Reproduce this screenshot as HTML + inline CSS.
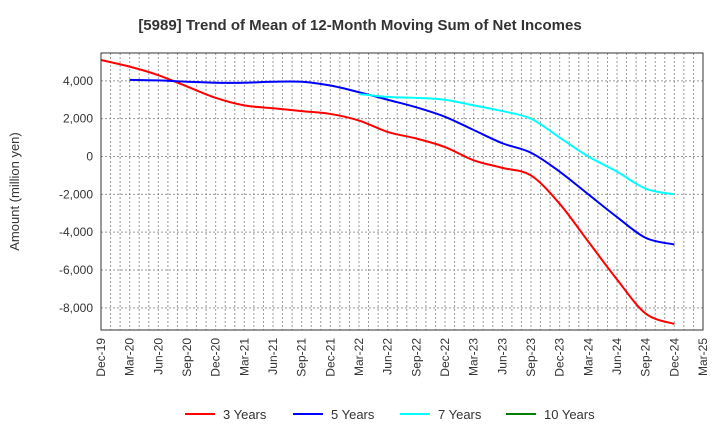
<!DOCTYPE html>
<html><head><meta charset="utf-8"><style>
body{margin:0;background:#fff;font-family:"Liberation Sans",sans-serif}
</style></head><body>
<svg id="c" width="720" height="440" xmlns="http://www.w3.org/2000/svg"></svg>
<script>
const quarters=["Dec-19","Mar-20","Jun-20","Sep-20","Dec-20","Mar-21","Jun-21","Sep-21","Dec-21","Mar-22","Jun-22","Sep-22","Dec-22","Mar-23","Jun-23","Sep-23","Dec-23","Mar-24","Jun-24","Sep-24","Dec-24","Mar-25"];
const yTicks=[-8000,-6000,-4000,-2000,0,2000,4000];
const s3=[5100,4750,4300,3700,3100,2700,2550,2400,2250,1900,1300,950,500,-200,-600,-1000,-2500,-4500,-6500,-8300,-8850];
const s5=[null,4050,4020,3950,3900,3900,3950,3950,3750,3400,3000,2600,2100,1400,700,200,-800,-2000,-3200,-4300,-4650];
const s7=[null,null,null,null,null,null,null,null,null,3300,3150,3100,3000,2700,2400,2000,1000,0,-800,-1700,-2000];
const s10=[];
const series=[{n:"3 Years",c:"#ff0000",d:s3},{n:"5 Years",c:"#0000ff",d:s5},{n:"7 Years",c:"#00ffff",d:s7},{n:"10 Years",c:"#008000",d:s10}];
const L=101,R=703,T=53,B=330,ymin=-9170,ymax=5470;
const X=i=>L+(R-L)*i/(quarters.length-1);
const Y=v=>B-(B-T)*(v-ymin)/(ymax-ymin);
const svg=document.getElementById('c');const NS="http://www.w3.org/2000/svg";
function el(t,a,p){const e=document.createElementNS(NS,t);for(const k in a)e.setAttribute(k,a[k]);(p||svg).appendChild(e);return e;}
let t=el('text',{x:360,y:30,'text-anchor':'middle','font-size':15,'font-weight':'bold',fill:'#333'});t.textContent="[5989]  Trend of Mean of 12-Month Moving Sum of Net Incomes";


const g=el('g',{});


for(let m=1;m<63;m++){const x=L+(R-L)*m/63;el('line',{x1:x,x2:x,y1:T,y2:B,stroke:'#999','stroke-dasharray':'2,2','stroke-width':1},g);}
yTicks.forEach(v=>{el('line',{x1:L,x2:R,y1:Y(v),y2:Y(v),stroke:'#999','stroke-dasharray':'2,2'},g);
const tx=el('text',{x:L-8,y:Y(v)+4,'text-anchor':'end','font-size':12,fill:'#333'});tx.textContent=v.toLocaleString('en-US');

});
quarters.forEach((q,i)=>{const tx=el('text',{transform:`translate(${X(i)+4},${B+8}) rotate(-90)`,'text-anchor':'end','font-size':12,fill:'#333'});tx.textContent=q;

});
const yt=el('text',{transform:`translate(19,${(T+B)/2}) rotate(-90)`,'text-anchor':'middle','font-size':13,fill:'#333'});yt.textContent="Amount (million yen)";


function path(d){const p=[];d.forEach((v,i)=>{if(v!=null)p.push([X(i),Y(v)]);});if(p.length<2)return"";
let s=`M${p[0][0]},${p[0][1]}`;for(let i=0;i<p.length-1;i++){const p0=p[Math.max(0,i-1)],p1=p[i],p2=p[i+1],p3=p[Math.min(p.length-1,i+2)];
s+=` C${p1[0]+(p2[0]-p0[0])/6},${p1[1]+(p2[1]-p0[1])/6} ${p2[0]-(p3[0]-p1[0])/6},${p2[1]-(p3[1]-p1[1])/6} ${p2[0]},${p2[1]}`;}return s;}
series.forEach(s=>{const d=path(s.d);if(d){const pe=el('path',{d:d,fill:'none',stroke:s.c,'stroke-width':2});

}});
el('rect',{x:L,y:T,width:R-L,height:B-T,fill:'none',stroke:'#333','stroke-width':1});
const lx=[185,293,400,506];
series.forEach((s,i)=>{const lg=el('g',{});


el('line',{x1:lx[i],x2:lx[i]+30,y1:414,y2:414,stroke:s.c,'stroke-width':2},lg);
const tx=el('text',{x:lx[i]+38,y:419,'font-size':13,fill:'#333'},lg);tx.textContent=s.n;});
</script>
</body></html>
